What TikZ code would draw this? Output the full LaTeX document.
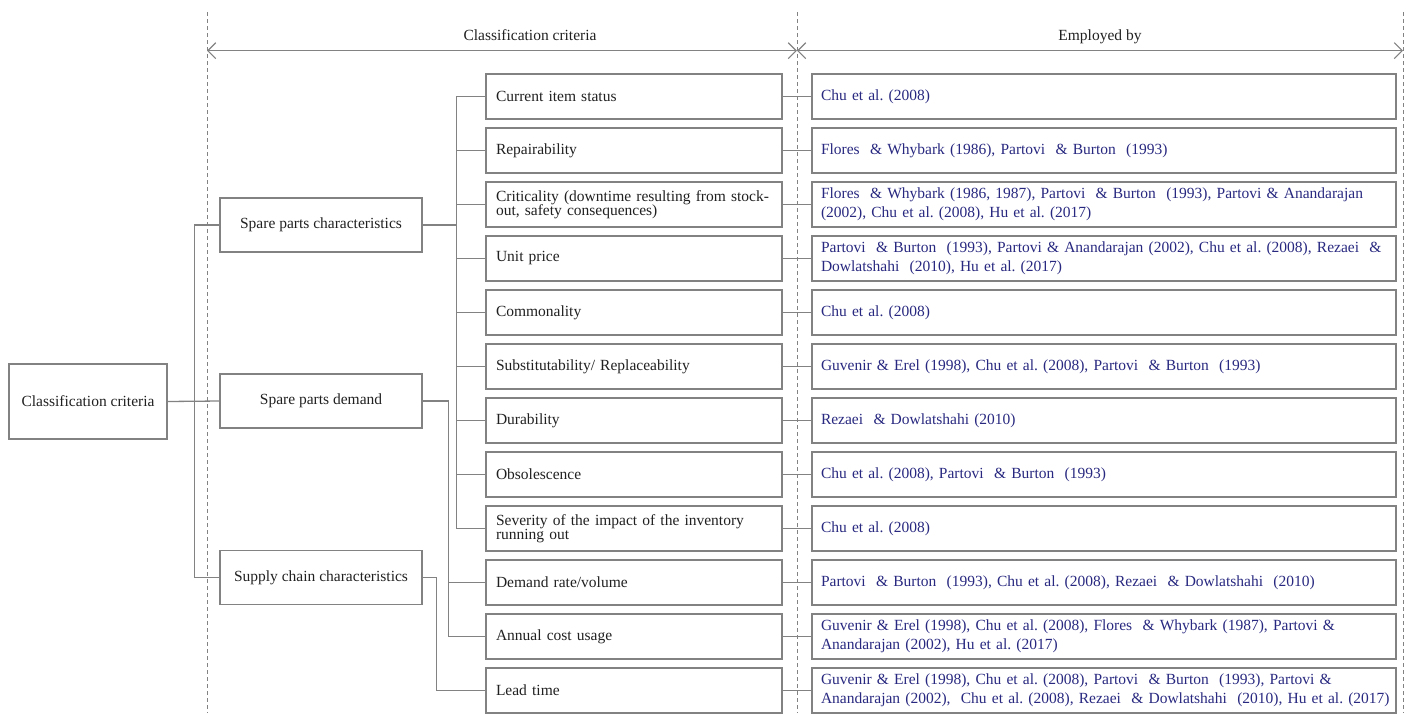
\documentclass[tikz,border=0pt]{standalone}
\usepackage{fontspec}
\setmainfont{Liberation Serif}
\usetikzlibrary{arrows.meta,calc}
\definecolor{linegray}{RGB}{130,130,130}
\definecolor{refblue}{RGB}{40,40,128}
\definecolor{inktext}{RGB}{32,32,32}
\frenchspacing
\begin{document}
\begin{tikzpicture}[x=1pt,y=-1pt,
  ln/.style={draw=linegray,line width=1.3pt},
  box/.style={rectangle,draw=linegray,line width=1.3pt,inner sep=0pt,text=inktext},
  rootbox/.style={box,minimum width=158pt,minimum height=75pt,align=center,font=\fontsize{15.5}{17}\selectfont},
  groupbox/.style={box,minimum width=202pt,minimum height=54pt,align=center,font=\fontsize{15.5}{17}\selectfont},
  critbox/.style={box,minimum width=296pt,minimum height=45pt,text width=276pt,inner xsep=10pt,align=left,font=\fontsize{15.5}{14.5}\selectfont},
  refbox/.style={box,minimum width=584pt,minimum height=45pt,text width=566pt,inner xsep=9pt,align=left,text=refblue,font=\fontsize{15.5}{19}\selectfont},
  sep/.style={draw=linegray,line width=1pt,dash pattern=on 4pt off 3pt},
  span/.style={draw=linegray,line width=1.1pt,{Straight Barb[length=8pt,width=16pt]}-{Straight Barb[length=8pt,width=16pt]}},
  head/.style={text=inktext,font=\fontsize{15.5}{17}\selectfont,inner sep=0pt,anchor=base}]
\useasboundingbox (0,0) rectangle (1408,713);

% column separators
\coordinate (sepL) at (207,12);
\coordinate (sepM) at (797,12);
\coordinate (sepR) at (1403,12);
\draw[sep] (sepL) -- (207,713);
\draw[sep] (sepM) -- (797,713);
\draw[sep] (sepR) -- (1403,713);

% column headings with span arrows
\node[head] (hcrit) at (530,40) {Classification criteria};
\node[head] (hemp) at (1100,40) {Employed by};
\coordinate (aL) at (207,50.7);
\coordinate (aM) at (797,50.7);
\coordinate (aR) at (1403,50.7);
\draw[span] (aL) -- (aM);
\draw[span] (aM) -- (aR);

% root and groups
\node[rootbox] (root) at (88,401.5) {Classification criteria};
\node[groupbox] (spc) at (321,225) {Spare parts characteristics};
\node[groupbox] (spd) at (321,401) {Spare parts demand};
\node[groupbox] (scc) at (321,577.5) {Supply chain characteristics};

% criteria
\foreach \i/\t in {
  0/{Current item status},
  1/{Repairability},
  2/{Criticality (downtime resulting from stock-\\out, safety consequences)},
  3/{Unit price},
  4/{Commonality},
  5/{Substitutability/ Replaceability},
  6/{Durability},
  7/{Obsolescence},
  8/{Severity of the impact of the inventory\\running out},
  9/{Demand rate/volume},
  10/{Annual cost usage},
  11/{Lead time}}
  \node[critbox] (c\i) at (634,96.5+54*\i) {\t};

% references
\foreach \i/\t in {
  0/{Chu et al. (2008)},
  1/{Flores\ \ \& Whybark (1986), Partovi\ \ \& Burton\ \ (1993)},
  2/{Flores\ \ \& Whybark (1986, 1987), Partovi\ \ \& Burton\ \ (1993), Partovi \& Anandarajan\\(2002), Chu et al. (2008), Hu et al. (2017)},
  3/{Partovi\ \ \& Burton\ \ (1993), Partovi \& Anandarajan (2002), Chu et al. (2008), Rezaei\ \ \&\\Dowlatshahi\ \ (2010), Hu et al. (2017)},
  4/{Chu et al. (2008)},
  5/{Guvenir \& Erel (1998), Chu et al. (2008), Partovi\ \ \& Burton\ \ (1993)},
  6/{Rezaei\ \ \& Dowlatshahi (2010)},
  7/{Chu et al. (2008), Partovi\ \ \& Burton\ \ (1993)},
  8/{Chu et al. (2008)},
  9/{Partovi\ \ \& Burton\ \ (1993), Chu et al. (2008), Rezaei\ \ \& Dowlatshahi\ \ (2010)},
  10/{Guvenir \& Erel (1998), Chu et al. (2008), Flores\ \ \& Whybark (1987), Partovi \&\\Anandarajan (2002), Hu et al. (2017)},
  11/{Guvenir \& Erel (1998), Chu et al. (2008), Partovi\ \ \& Burton\ \ (1993), Partovi \&\\\mbox{Anandarajan (2002),\ \ Chu et al. (2008), Rezaei\ \ \& Dowlatshahi\ \ (2010), Hu et al. (2017)}}}
  \node[refbox] (r\i) at (1104,96.5+54*\i) {\t};

% root to groups
\draw[ln] (root.east) -- (spd.west);
\draw[ln] (spc.west) -- ++(-25,0) |- (scc.west);

% groups to criteria
\foreach \i in {0,...,8}
  \draw[ln] (spc.east) -- ++(34,0) |- (c\i.west);
\foreach \i in {9,10}
  \draw[ln] (spd.east) -- ++(26,0) |- (c\i.west);
\draw[ln] (scc.east) -- ++(14,0) |- (c11.west);

% criteria to references
\foreach \i in {0,...,11}
  \draw[ln] (c\i.east) -- (r\i.west);
\end{tikzpicture}
\end{document}
